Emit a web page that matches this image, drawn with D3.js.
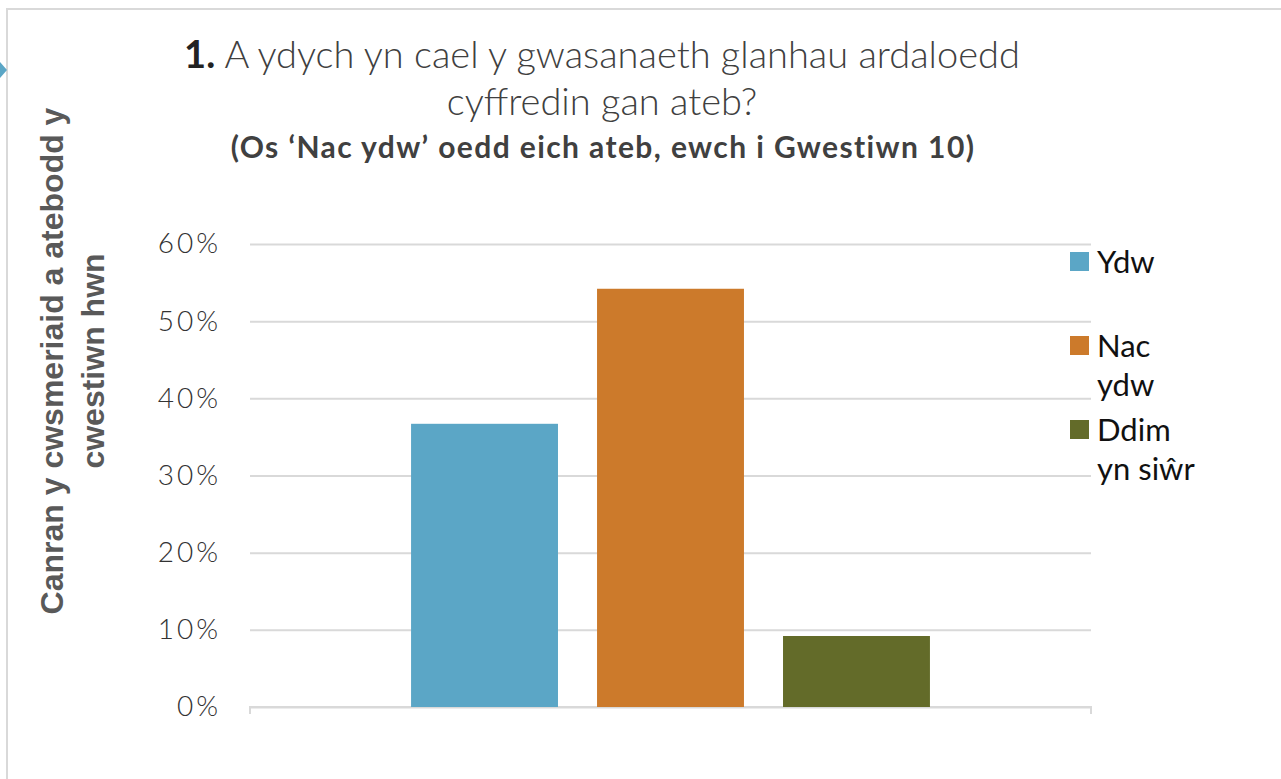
<!DOCTYPE html>
<html><head><meta charset="utf-8">
<script src="https://cdn.jsdelivr.net/npm/d3@7"></script>
<style>html,body{margin:0;padding:0;background:#fff;overflow:hidden}</style>
</head><body>
<svg id="c" width="1281" height="779"></svg>
<script>
const seriesNames = ["Ydw", "Nac ydw", "Ddim yn siŵr"];
const legendLines = [["Ydw"], ["Nac", "ydw"], ["Ddim", "yn siŵr"]];
const values = [36.7, 54.2, 9.2];
const colors = ["#5ba6c6", "#cc7a2b", "#636b29"];
const tickValues = [0, 10, 20, 30, 40, 50, 60];
const tickLabels = ["0%", "10%", "20%", "30%", "40%", "50%", "60%"];

const svg = d3.select("#c");
// frame
svg.append("path").attr("d", "M7,790 L7,9 L1290,9").attr("fill", "none")
  .attr("stroke", "#d9d9d9").attr("stroke-width", 2);
svg.append("path").attr("d", "M0,62 L7,70 L0,78 Z").attr("fill", "#5ba6c6");

const y = d3.scaleLinear().domain([0, 60]).range([707, 244]);
const x = d3.scaleBand().domain(seriesNames).range([250, 1091])
  .paddingInner(0.21).paddingOuter(0.866);

// gridlines
const yAxis = d3.axisLeft(y).tickValues(tickValues)
  .tickFormat((d, i) => tickLabels[i]).tickSize(-(1091 - 250)).tickPadding(29);
const g = svg.append("g").attr("transform", "translate(250,0)").call(yAxis);
g.select(".domain").remove();
g.selectAll(".tick line").attr("stroke", "#d9d9d9").attr("stroke-width", 2);
g.selectAll(".tick text").attr("font-family", "Lato, 'Open Sans', sans-serif")
  .attr("font-size", 28).attr("font-weight", 300).attr("letter-spacing", 3).attr("fill", "#333");

// baseline axis with end ticks
svg.append("path").attr("d", `M250,${y(0)+7} L250,${y(0)} L1091,${y(0)} L1091,${y(0)+7}`)
  .attr("fill", "none").attr("stroke", "#d9d9d9").attr("stroke-width", 2);

// bars
svg.selectAll("rect.bar").data(values).enter().append("rect")
  .attr("class", "bar")
  .attr("x", (d, i) => x(seriesNames[i]))
  .attr("width", x.bandwidth())
  .attr("y", d => y(d))
  .attr("height", d => y(0) - y(d))
  .attr("fill", (d, i) => colors[i]);

// title
const t = svg.append("text").attr("x", 602).attr("y", 68).attr("text-anchor", "middle")
  .attr("font-family", "Lato, 'Open Sans', sans-serif").attr("font-size", 38);
t.append("tspan").attr("font-weight", 700).attr("fill", "#222").text("1. ");
t.append("tspan").attr("font-weight", 300).attr("fill", "#404040").text(" A ydych yn cael y gwasanaeth glanhau ardaloedd");
svg.append("text").attr("x", 602).attr("y", 115).attr("text-anchor", "middle")
  .attr("font-family", "Lato, 'Open Sans', sans-serif").attr("font-size", 38)
  .attr("font-weight", 300).attr("fill", "#404040").text("cyffredin gan ateb?");
svg.append("text").attr("x", 603).attr("y", 158).attr("text-anchor", "middle")
  .attr("font-family", "Lato, 'Open Sans', sans-serif").attr("font-size", 30)
  .attr("letter-spacing", 1.4)
  .attr("font-weight", 700).attr("fill", "#404040").text("(Os ‘Nac ydw’ oedd eich ateb, ewch i Gwestiwn 10)");

// y axis title
svg.append("text").attr("transform", "translate(63,361) rotate(-90)")
  .attr("font-family", "'Liberation Sans', Arial, sans-serif").attr("font-size", 32)
  .attr("font-weight", 700).attr("fill", "#595959").attr("text-anchor", "middle")
  .text("Canran y cwsmeriaid a atebodd y");
svg.append("text").attr("transform", "translate(104,361) rotate(-90)")
  .attr("font-family", "'Liberation Sans', Arial, sans-serif").attr("font-size", 32)
  .attr("font-weight", 700).attr("fill", "#595959").attr("text-anchor", "middle")
  .text("cwestiwn hwn");

// legend
const legTops = [262, 346, 430];
legendLines.forEach((lines, i) => {
  svg.append("rect").attr("x", 1070).attr("y", legTops[i] - 10).attr("width", 19).attr("height", 19)
    .attr("fill", colors[i]);
  lines.forEach((ln, j) => {
    svg.append("text").attr("x", 1097).attr("y", legTops[i] + 11 + j * 39)
      .attr("font-family", "Lato, 'Open Sans', sans-serif").attr("font-size", 31)
      .attr("fill", "#111").text(ln);
  });
});
</script>
</body></html>
